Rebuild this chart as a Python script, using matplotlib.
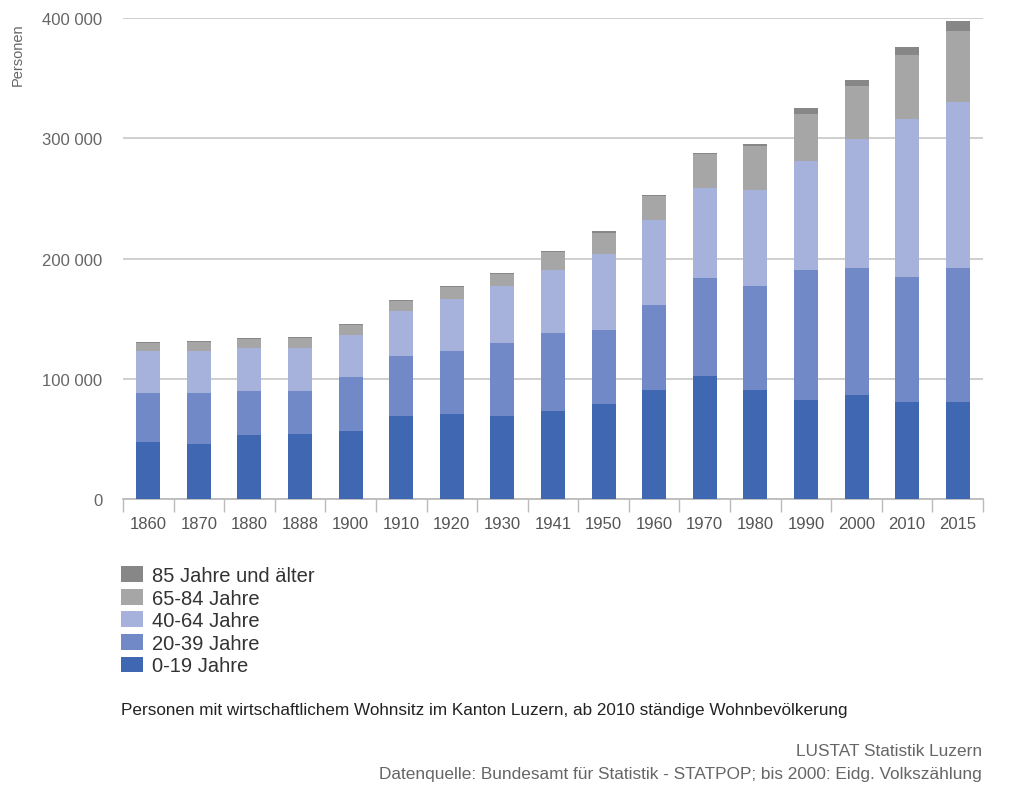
import matplotlib.pyplot as plt
import numpy as np

plt.rcParams['font.family'] = ['Liberation Sans', 'DejaVu Sans']

# Jahre (Volkszählungen / STATPOP)
years = ['1860', '1870', '1880', '1888', '1900', '1910', '1920', '1930', '1941',
         '1950', '1960', '1970', '1980', '1990', '2000', '2010', '2015']

# Personen nach Altersgruppe
age_0_19 = [47000, 45500, 53500, 54100, 56300, 68800, 70700, 69300, 73400,
            79300, 90900, 102600, 90400, 82100, 86500, 81000, 81000]
age_20_39 = [41500, 42900, 36600, 36000, 45200, 50400, 52400, 60700, 64400,
             61200, 70700, 81000, 86900, 108200, 105200, 104000, 110700]
age_40_64 = [34800, 34900, 35500, 35500, 35100, 37100, 43200, 47400, 52900,
             63500, 70200, 75200, 79300, 90700, 107300, 130700, 138400]
age_65_84 = [6200, 7500, 7400, 8400, 7900, 8700, 9800, 10000, 14300,
             17400, 20000, 27800, 36600, 39400, 44400, 53800, 58800]
age_85 = [800, 600, 600, 700, 800, 800, 800, 800, 1200,
          1500, 1000, 1300, 2200, 4400, 5300, 6600, 8900]

labels = ['0-19 Jahre', '20-39 Jahre', '40-64 Jahre', '65-84 Jahre', '85 Jahre und älter']
colors = ['#4068b2', '#7189c6', '#a6b1dc', '#a6a6a6', '#878787']
series = [age_0_19, age_20_39, age_40_64, age_65_84, age_85]

fig = plt.figure(figsize=(10.24, 8.03), dpi=100)
ax = fig.add_axes([123 / 1024, 1 - 500 / 803, 860 / 1024, 481 / 803])

x = np.arange(len(years))
bottom = np.zeros(len(years))
handles = []
for vals, lab, col in zip(series, labels, colors):
    h = ax.bar(x, vals, bottom=bottom, width=0.475, color=col, label=lab, zorder=3)
    handles.append(h)
    bottom += np.array(vals)

ax.set_xlim(-0.5, len(years) - 0.5)
ax.set_ylim(0, 400000)
ax.set_yticks([0, 100000, 200000, 300000, 400000])
ax.set_yticklabels(['0', '100 000', '200 000', '300 000', '400 000'])
ax.yaxis.grid(True, color='#cccccc', linewidth=1.3, zorder=0)
ax.tick_params(axis='y', length=0, pad=15, labelsize=12, labelcolor='#666666')

# Kategorie-Trennstriche an der x-Achse
ax.set_xticks(x)
ax.set_xticklabels(years)
ax.set_xticks(np.arange(len(years) + 1) - 0.5, minor=True)
ax.tick_params(axis='x', which='major', length=0, pad=12, labelsize=12, labelcolor='#555555')
ax.tick_params(axis='x', which='minor', length=9.5, width=1, color='#bbbbbb')

for s in ['top', 'right', 'left']:
    ax.spines[s].set_visible(False)
ax.spines['bottom'].set_color('#bbbbbb')
ax.spines['bottom'].set_linewidth(1.3)

fig.text(18 / 1024, 1 - 55 / 803, 'Personen', rotation=90, ha='center', va='center',
         fontsize=10.5, color='#666666')

fig.legend(handles[::-1], labels[::-1], loc='upper left',
           bbox_to_anchor=(121 / 1024, 1 - 567 / 803), fontsize=14.5, frameon=False,
           handlelength=1.09, handleheight=0.84, labelspacing=0.18, handletextpad=0.43,
           borderpad=0, borderaxespad=0, labelcolor='#333333')

fig.text(121 / 1024, 1 - 711 / 803,
         'Personen mit wirtschaftlichem Wohnsitz im Kanton Luzern, ab 2010 ständige Wohnbevölkerung',
         ha='left', va='center', fontsize=12.3, color='#222222')
fig.text(982 / 1024, 1 - 752 / 803, 'LUSTAT Statistik Luzern',
         ha='right', va='center', fontsize=12.4, color='#666666')
fig.text(982 / 1024, 1 - 775 / 803,
         'Datenquelle: Bundesamt für Statistik - STATPOP; bis 2000: Eidg. Volkszählung',
         ha='right', va='center', fontsize=12.4, color='#666666')

fig.savefig('out.png', dpi=100, facecolor='white')
